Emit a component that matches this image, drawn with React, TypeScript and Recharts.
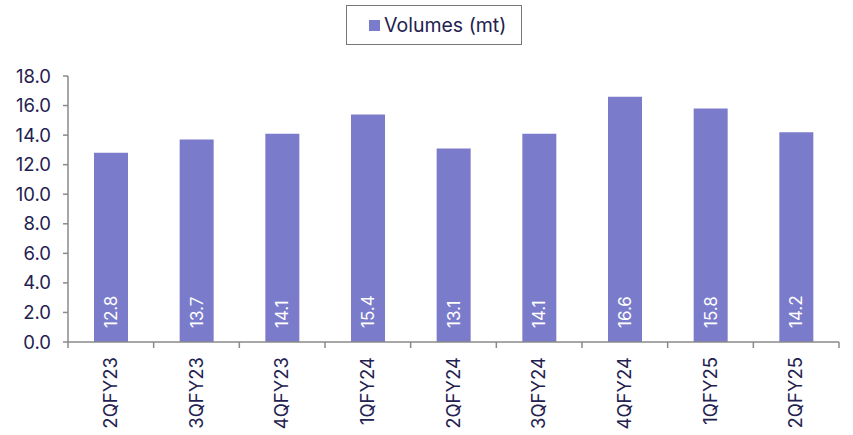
import { BarChart, Bar, XAxis, YAxis, LabelList, Legend } from "recharts";

const quarters = [
  "2QFY23",
  "3QFY23",
  "4QFY23",
  "1QFY24",
  "2QFY24",
  "3QFY24",
  "4QFY24",
  "1QFY25",
  "2QFY25",
];
const volumes = [12.8, 13.7, 14.1, 15.4, 13.1, 14.1, 16.6, 15.8, 14.2];
const yTicks = [0, 2, 4, 6, 8, 10, 12, 14, 16, 18];

const BAR_COLOR = "#7b7bcb";
const TEXT_COLOR = "#23214f";
const AXIS_COLOR = "#8a8a8a";
const FONT = "Inter, 'Noto Sans', sans-serif";

const W = 853;
const H = 435;
const MARGIN = { top: 76, right: 14, left: 0, bottom: 0 };
const Y_WIDTH = 68;
const BAND = (W - MARGIN.right - Y_WIDTH) / quarters.length;

const data = quarters.map((q, i) => ({ name: q, volume: volumes[i] }));

// rotated category label, plus tick marks on the category boundaries
const QuarterTick = (props: any) => {
  const { x, y, payload, index } = props;
  const axisY = y - 8;
  return (
    <g>
      {index === 0 && (
        <line
          x1={x - BAND / 2}
          x2={x - BAND / 2}
          y1={axisY}
          y2={axisY + 6}
          stroke={AXIS_COLOR}
          strokeWidth={1.5}
        />
      )}
      <line
        x1={x + BAND / 2}
        x2={x + BAND / 2}
        y1={axisY}
        y2={axisY + 6}
        stroke={AXIS_COLOR}
        strokeWidth={1.5}
      />
      <text
        transform={`translate(${x + 6}, ${axisY + 15}) rotate(-90)`}
        textAnchor="end"
        fill={TEXT_COLOR}
        fontSize={18.5}
        fontFamily={FONT}
      >
        {payload.value}
      </text>
    </g>
  );
};

const ValueLabel = (props: any) => {
  const { x, y, width, height, value } = props;
  const cx = x + width / 2;
  const bottom = y + height - 14;
  return (
    <text
      transform={`translate(${cx + 6}, ${bottom}) rotate(-90)`}
      textAnchor="start"
      fill="#ffffff"
      fontSize={17}
      fontFamily={FONT}
    >
      {Number(value).toFixed(1)}
    </text>
  );
};

const LegendBox = () => (
  <div
    style={{
      position: "absolute",
      left: 346,
      top: 5,
      width: 174,
      height: 38,
      border: "1.5px solid #777",
      display: "flex",
      alignItems: "center",
      boxSizing: "content-box",
      fontFamily: FONT,
      color: TEXT_COLOR,
      fontSize: 19.5,
    }}
  >
    <span
      style={{
        display: "inline-block",
        width: 11,
        height: 11,
        background: BAR_COLOR,
        marginLeft: 22,
        marginRight: 4,
      }}
    />
    <span>Volumes (mt)</span>
  </div>
);

export default function App() {
  return (
    <div style={{ position: "absolute", left: 0, top: 0, width: W, height: H, background: "#fff" }}>
      <BarChart width={W} height={H} data={data} margin={MARGIN}>
        <XAxis
          dataKey="name"
          height={93}
          interval={0}
          tickLine={false}
          axisLine={{ stroke: AXIS_COLOR, strokeWidth: 1.5 }}
          tick={<QuarterTick />}
        />
        <YAxis
          width={Y_WIDTH}
          domain={[0, 18]}
          ticks={yTicks}
          interval={0}
          tickSize={5}
          tickMargin={12}
          tickFormatter={(v: number) => v.toFixed(1)}
          axisLine={{ stroke: AXIS_COLOR, strokeWidth: 1.5 }}
          tickLine={{ stroke: AXIS_COLOR, strokeWidth: 1.5 }}
          tick={{ fill: TEXT_COLOR, fontSize: 18.5, fontFamily: FONT }}
        />
        <Legend content={() => null} />
        <Bar dataKey="volume" name="Volumes (mt)" fill={BAR_COLOR} barSize={34} isAnimationActive={false}>
          <LabelList dataKey="volume" content={<ValueLabel />} />
        </Bar>
      </BarChart>
      <LegendBox />
    </div>
  );
}
